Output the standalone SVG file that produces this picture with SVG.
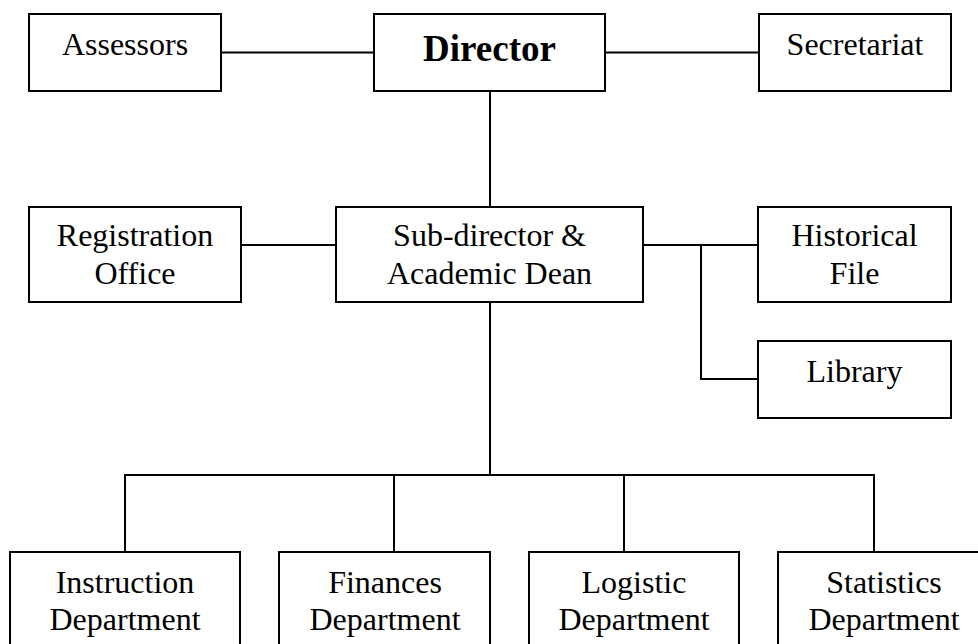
<svg xmlns="http://www.w3.org/2000/svg" width="978" height="644" viewBox="0 0 978 644">
  <style>
    .box { fill: #ffffff; stroke: #000000; stroke-width: 2; }
    .link { fill: none; stroke: #000000; stroke-width: 2; }
    .lbl { font-family: "Liberation Serif", "Times New Roman", serif; font-size: 32px; fill: #000000; text-anchor: middle; }
    .head { font-weight: bold; font-size: 37px; }
  </style>
  <rect x="0" y="0" width="978" height="644" fill="#ffffff"/>

  <!-- connectors -->
  <g id="connectors">
    <line class="link" x1="221" y1="52.5" x2="374" y2="52.5"/>
    <line class="link" x1="605" y1="52.5" x2="759" y2="52.5"/>
    <line class="link" x1="490" y1="91" x2="490" y2="207"/>
    <line class="link" x1="241" y1="245" x2="336" y2="245"/>
    <line class="link" x1="643" y1="245" x2="758" y2="245"/>
    <polyline class="link" points="701,245 701,379 758,379"/>
    <line class="link" x1="490" y1="302" x2="490" y2="475"/>
    <line class="link" x1="124" y1="475" x2="875" y2="475"/>
    <line class="link" x1="125" y1="475" x2="125" y2="552"/>
    <line class="link" x1="394" y1="475" x2="394" y2="552"/>
    <line class="link" x1="624" y1="475" x2="624" y2="552"/>
    <line class="link" x1="874" y1="475" x2="874" y2="552"/>
  </g>

  <!-- top row -->
  <g id="assessors">
    <rect class="box" x="29" y="14" width="192" height="77"/>
    <text class="lbl" x="125" y="55">Assessors</text>
  </g>
  <g id="director">
    <rect class="box" x="374" y="14" width="231" height="77"/>
    <text class="lbl head" x="489.5" y="61">Director</text>
  </g>
  <g id="secretariat">
    <rect class="box" x="759" y="14" width="192" height="77"/>
    <text class="lbl" x="855" y="55">Secretariat</text>
  </g>

  <!-- middle row -->
  <g id="registration">
    <rect class="box" x="29" y="207" width="212" height="95"/>
    <text class="lbl" x="135" y="246">Registration</text>
    <text class="lbl" x="135" y="283.5">Office</text>
  </g>
  <g id="subdirector">
    <rect class="box" x="336" y="207" width="307" height="95"/>
    <text class="lbl" x="489.5" y="246">Sub-director &amp;</text>
    <text class="lbl" x="489.5" y="283.5">Academic Dean</text>
  </g>
  <g id="historical">
    <rect class="box" x="758" y="207" width="193" height="95"/>
    <text class="lbl" x="854.5" y="246">Historical</text>
    <text class="lbl" x="854.5" y="283.5">File</text>
  </g>
  <g id="library">
    <rect class="box" x="758" y="341" width="193" height="77"/>
    <text class="lbl" x="854.5" y="382">Library</text>
  </g>

  <!-- departments -->
  <g id="instruction">
    <rect class="box" x="10" y="552" width="230" height="120"/>
    <text class="lbl" x="125" y="593">Instruction</text>
    <text class="lbl" x="125" y="629.5">Department</text>
  </g>
  <g id="finances">
    <rect class="box" x="279" y="552" width="211" height="120"/>
    <text class="lbl" x="385" y="593">Finances</text>
    <text class="lbl" x="385" y="629.5">Department</text>
  </g>
  <g id="logistic">
    <rect class="box" x="529" y="552" width="210" height="120"/>
    <text class="lbl" x="634" y="593">Logistic</text>
    <text class="lbl" x="634" y="629.5">Department</text>
  </g>
  <g id="statistics">
    <rect class="box" x="778" y="552" width="212" height="120"/>
    <text class="lbl" x="884" y="593">Statistics</text>
    <text class="lbl" x="884" y="629.5">Department</text>
  </g>
</svg>
